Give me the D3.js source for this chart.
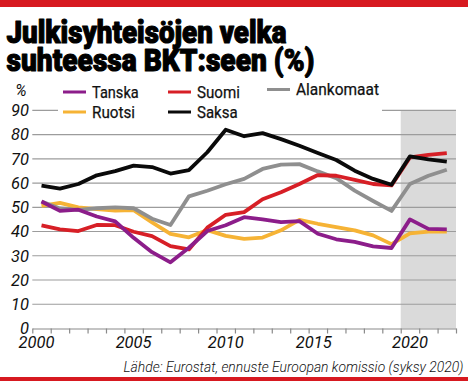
<!DOCTYPE html>
<html>
<head>
<meta charset="utf-8">
<script src="https://cdn.jsdelivr.net/npm/d3@7/dist/d3.min.js"></script>
<style>
  html, body { margin: 0; padding: 0; background: #fff; }
  svg { display: block; }
  text { font-family: Roboto, "Liberation Sans", "DejaVu Sans", sans-serif; }
</style>
</head>
<body>
<svg id="chart" width="468" height="381"></svg>
<script>
// ---- data ----
const years = [2000, 2001, 2002, 2003, 2004, 2005, 2006, 2007, 2008, 2009, 2010,
               2011, 2012, 2013, 2014, 2015, 2016, 2017, 2018, 2019, 2020, 2021, 2022];
const tanska     = [52.4, 48.5, 49.0, 46.2, 44.2, 37.4, 31.5, 27.3, 33.3, 40.2, 42.6, 45.9, 45.0, 43.9, 44.3, 39.1, 36.8, 35.7, 33.9, 33.2, 45.0, 41.1, 40.9];
const suomi      = [42.5, 40.9, 40.2, 42.7, 42.6, 39.9, 38.1, 34.0, 32.6, 41.6, 46.9, 48.0, 53.3, 56.2, 59.6, 63.3, 63.0, 61.3, 59.6, 59.0, 70.6, 71.6, 72.3];
const ruotsi     = [50.6, 51.8, 50.0, 49.2, 48.6, 48.8, 43.8, 39.0, 37.6, 40.6, 38.2, 37.0, 37.5, 40.5, 44.8, 43.2, 41.8, 40.5, 38.4, 34.8, 39.2, 40.0, 40.0];
const alankomaat = [52.4, 49.5, 48.9, 49.6, 50.0, 49.6, 45.3, 42.7, 54.5, 56.8, 59.5, 61.7, 65.8, 67.6, 67.8, 64.8, 62.0, 56.9, 52.6, 48.5, 59.6, 63.0, 65.5];
const saksa      = [58.9, 57.7, 59.6, 63.2, 64.9, 67.2, 66.6, 63.9, 65.3, 72.7, 82.0, 79.3, 80.6, 78.1, 75.4, 72.4, 69.5, 65.1, 61.7, 59.3, 71.0, 69.8, 68.8];
const seriesNames = ["Tanska", "Suomi", "Alankomaat", "Ruotsi", "Saksa"];
const yTicks = [0, 10, 20, 30, 40, 50, 60, 70, 80, 90];
const xLabels = [2000, 2005, 2010, 2015, 2020];
const forecastStart = 2020;
const titleLines = ["Julkisyhteisöjen velka", "suhteessa BKT:seen (%)"];
const unitLabel = "%";
const sourceText = "Lähde: Eurostat, ennuste Euroopan komissio (syksy 2020)";

// ---- styles ----
const colors = {
  Tanska: "#8c1d8a",
  Suomi: "#d71f26",
  Alankomaat: "#8f8f8f",
  Ruotsi: "#f6b335",
  Saksa: "#0a0a0a"
};
const values = { Tanska: tanska, Suomi: suomi, Alankomaat: alankomaat, Ruotsi: ruotsi, Saksa: saksa };
const drawOrder = ["Ruotsi", "Alankomaat", "Suomi", "Tanska", "Saksa"];

const svg = d3.select("#chart");
const W = 468, H = 381;

// scales
const x = d3.scaleLinear().domain([years[0], years[years.length - 1] + 1]).range([32.3, 456]);
const xc = yr => x(yr + 0.5);
const y = d3.scaleLinear().domain([0, 90]).range([328.5, 110.3]);

// top & bottom red bars
svg.append("rect").attr("x", 0).attr("y", 0).attr("width", W).attr("height", 7).attr("fill", "#d71920");
svg.append("rect").attr("x", 0).attr("y", 377).attr("width", W).attr("height", 4).attr("fill", "#d71920");

// title
function fitText(sel, width) {
  sel.attr("textLength", width).attr("lengthAdjust", "spacingAndGlyphs");
}
const titleBase = [42.7, 70.7];
const titleWidths = [280, 308];
titleLines.forEach((t, i) => {
  const tx = svg.append("text")
    .attr("x", 6.5).attr("y", titleBase[i])
    .attr("font-size", 31).attr("font-weight", 900)
    .attr("fill", "#000").attr("stroke", "#000").attr("stroke-width", 1.1)
    .attr("stroke-linejoin", "round")
    .text(t);
  fitText(tx, titleWidths[i]);
});

// forecast shading
svg.append("rect")
  .attr("x", x(forecastStart)).attr("y", y(90) + 0.6)
  .attr("width", x(years[years.length - 1] + 1) - x(forecastStart))
  .attr("height", y(0) - y(90) - 0.6)
  .attr("fill", "#dadada");

// gridlines
svg.append("g").selectAll("line")
  .data(yTicks.filter(d => d > 0))
  .join("line")
  .attr("x1", x.range()[0]).attr("x2", x.range()[1])
  .attr("y1", d => y(d)).attr("y2", d => y(d))
  .attr("stroke", "#9c9c9c").attr("stroke-width", 1.2);

// y labels
svg.append("g").selectAll("text")
  .data(yTicks)
  .join("text")
  .attr("x", 29).attr("y", d => y(d))
  .attr("dy", "0.36em")
  .attr("text-anchor", "end")
  .attr("font-size", 16.5).attr("font-style", "italic").attr("font-weight", 400)
  .attr("fill", "#111")
  .text(d => d);
svg.append("text")
  .attr("x", 21).attr("y", 96)
  .attr("text-anchor", "middle")
  .attr("font-size", 16).attr("font-style", "italic").attr("font-weight", 400)
  .attr("fill", "#111").text(unitLabel);

// x axis ticks
const tickYears = years.concat([years[years.length - 1] + 1]);
const axisG = svg.append("g").attr("transform", `translate(0,${y(0)})`)
  .call(d3.axisBottom(x).tickValues(tickYears).tickSize(5).tickSizeOuter(0).tickFormat(""));
axisG.select(".domain").attr("stroke", "#8a8a8a").attr("stroke-width", 1.2);
axisG.selectAll(".tick line").attr("stroke", "#8a8a8a").attr("stroke-width", 1.2);

// x labels
const labelNudge = { 2000: -5, 2015: -4 };
svg.append("g").selectAll("text")
  .data(xLabels)
  .join("text")
  .attr("x", d => xc(d) + (labelNudge[d] || 0)).attr("y", 348)
  .attr("text-anchor", "middle")
  .attr("font-size", 16.5).attr("font-style", "italic").attr("font-weight", 400)
  .attr("fill", "#111")
  .text(d => d);

// lines
const line = d3.line()
  .x((d, i) => xc(years[i]))
  .y(d => y(d));
svg.append("g").selectAll("path")
  .data(drawOrder)
  .join("path")
  .attr("d", k => line(values[k]))
  .attr("fill", "none")
  .attr("stroke", k => colors[k])
  .attr("stroke-width", 3.8)
  .attr("stroke-linejoin", "round")
  .attr("stroke-linecap", "butt");

// legend (white box hides gridline)
svg.append("rect").attr("x", 58).attr("y", 78).attr("width", 324).attr("height", 43).attr("fill", "#fff");
const legendPos = {
  Tanska:     { x: 63,  y: 92,   w: 46.7 },
  Suomi:      { x: 168, y: 92,   w: 43 },
  Alankomaat: { x: 267, y: 89.5, w: 83 },
  Ruotsi:     { x: 63,  y: 112,  w: 43 },
  Saksa:      { x: 168, y: 112,  w: 40.7 }
};
const lg = svg.append("g").selectAll("g")
  .data(seriesNames)
  .join("g")
  .attr("transform", k => `translate(${legendPos[k].x},${legendPos[k].y})`);
lg.append("rect")
  .attr("x", 0).attr("y", -1.5).attr("width", 23).attr("height", 3)
  .attr("fill", k => colors[k]);
lg.append("text")
  .attr("x", 29).attr("y", 5.5)
  .attr("font-size", 17).attr("fill", "#111")
  .attr("stroke", "#111").attr("stroke-width", 0.25)
  .text(k => k)
  .each(function(k) { fitText(d3.select(this), legendPos[k].w); });

// source
const src = svg.append("text")
  .attr("x", 123.5).attr("y", 372)
  .attr("font-size", 14).attr("font-style", "italic").attr("font-weight", 300)
  .attr("fill", "#111").text(sourceText);
fitText(src, 340);
</script>
</body>
</html>
